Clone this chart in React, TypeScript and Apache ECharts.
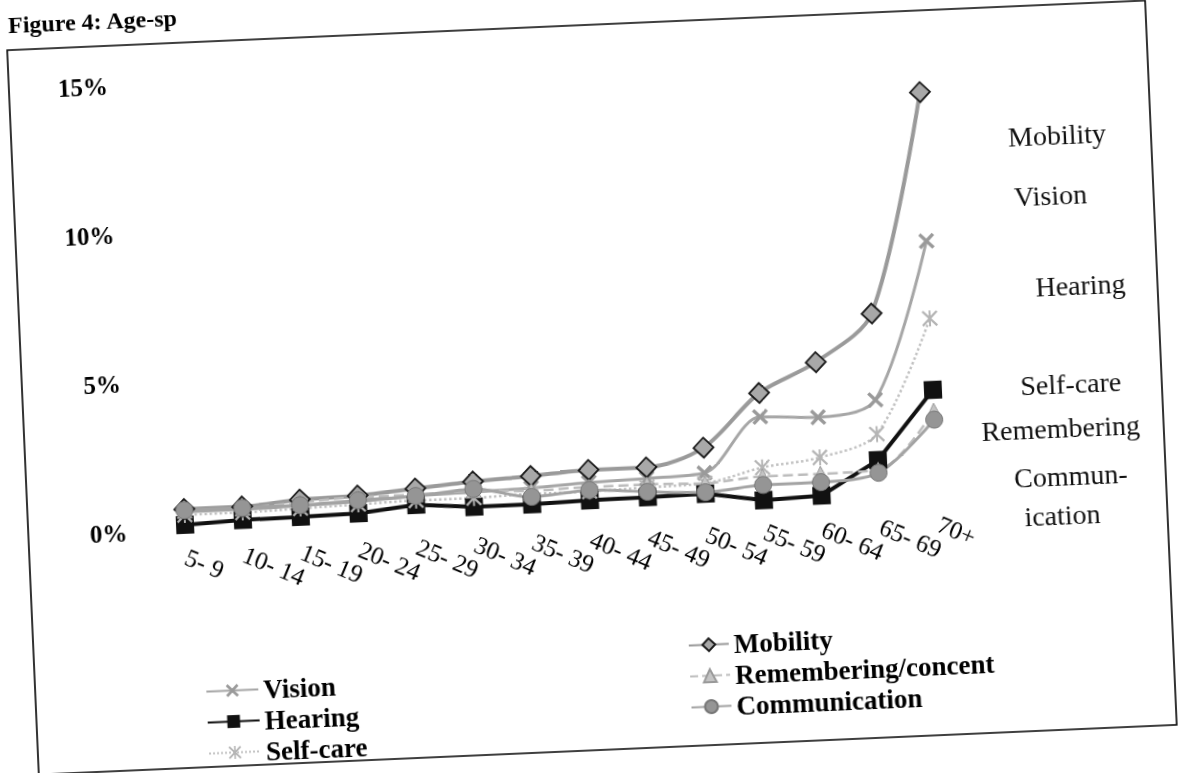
import React, { useEffect, useRef } from "react";
import * as echarts from "echarts";

// ---- data (percent of population in each age group) ----
const categories = [
  "5- 9", "10- 14", "15- 19", "20- 24", "25- 29", "30- 34", "35- 39",
  "40- 44", "45- 49", "50- 54", "55- 59", "60- 64", "65- 69", "70+",
];
const vision = [0.6, 0.6, 0.65, 0.7, 0.8, 0.85, 0.9, 1.0, 1.05, 1.15, 2.95, 2.85, 3.35, 8.6];
const hearing = [0.17, 0.25, 0.27, 0.3, 0.5, 0.35, 0.35, 0.4, 0.42, 0.45, 0.15, 0.22, 1.33, 3.6];
const selfCare = [0.5, 0.5, 0.55, 0.6, 0.65, 0.65, 0.7, 0.7, 0.75, 0.8, 1.25, 1.5, 2.2, 6.0];
const mobility = [0.7, 0.7, 0.85, 0.9, 1.05, 1.2, 1.3, 1.42, 1.42, 2.0, 3.75, 4.7, 6.25, 13.6];
const remembering = [0.65, 0.65, 0.75, 0.85, 0.85, 0.9, 0.8, 0.85, 0.85, 0.8, 0.95, 0.95, 1.0, 2.9];
const communication = [0.66, 0.65, 0.66, 0.74, 0.8, 0.95, 0.6, 0.74, 0.6, 0.5, 0.66, 0.67, 0.9, 2.6];

const yMin = 0;
const yMax = 15;
const yStep = 5;

const legendLeft = ["Vision", "Hearing", "Self-care"];
const legendRight = ["Mobility", "Remembering/concent", "Communication"];
const sideLabels = ["Mobility", "Vision", "Hearing", "Self-care", "Remembering", "Commun-", "ication"];
const titleText = "Figure 4: Age-sp";

const SERIF = "'Liberation Serif', 'Times New Roman', serif";

const X_SYMBOL =
  "path://M0,1.5 L1.5,0 L5,3.5 L8.5,0 L10,1.5 L6.5,5 L10,8.5 L8.5,10 L5,6.5 L1.5,10 L0,8.5 L3.5,5 Z";
const STAR_SYMBOL =
  "path://M0,1 L1,0 L5,4 L9,0 L10,1 L6,5 L10,9 L9,10 L5,6 L1,10 L0,9 L4,5 Z M4.4,0 L5.6,0 L5.6,10 L4.4,10 Z";

const sidePos: [number, number][] = [
  [1068, 195],
  [1059, 255],
  [1085, 346],
  [1071, 444],
  [1059, 488],
  [1067, 536],
  [1057, 575],
];

export default function App() {
  const ref = useRef<HTMLDivElement>(null);

  useEffect(() => {
    if (!ref.current) return;
    const chart = echarts.init(ref.current, null, { renderer: "svg" });

    const legendCommon = {
      orient: "vertical",
      itemHeight: 16,
      itemGap: 2,
      textStyle: {
        fontFamily: SERIF,
        fontWeight: "bold",
        fontSize: 27,
        color: "#000",
        lineHeight: 29,
      },
    };

    const option: any = {
      animation: false,
      backgroundColor: "#fff",
      grid: { left: 151, right: 225, top: 105, bottom: 301, containLabel: false },
      xAxis: {
        type: "category",
        data: categories,
        boundaryGap: true,
        axisLine: { show: false },
        axisTick: { show: false },
        splitLine: { show: false },
        axisLabel: {
          interval: 0,
          rotate: -25,
          margin: 26,
          fontFamily: SERIF,
          fontSize: 25,
          color: "#000",
        },
      },
      yAxis: {
        type: "value",
        min: yMin,
        max: yMax,
        interval: yStep,
        axisLine: { show: false },
        axisTick: { show: false },
        splitLine: { show: false },
        axisLabel: {
          formatter: "{value}%",
          margin: 29,
          fontFamily: SERIF,
          fontWeight: "bold",
          fontSize: 25,
          color: "#000",
        },
      },
      legend: [
        { ...legendCommon, data: legendLeft, left: 188, top: 695, itemWidth: 52 },
        { ...legendCommon, data: legendRight, left: 672, top: 670, itemWidth: 40 },
      ],
      series: [
        {
          name: "Vision",
          type: "line",
          data: vision,
          smooth: 0.3,
          symbol: X_SYMBOL,
          symbolSize: 16,
          lineStyle: { color: "#a6a6a6", width: 3 },
          itemStyle: { color: "#9a9a9a" },
        },
        {
          name: "Hearing",
          type: "line",
          data: hearing,
          symbol: "rect",
          symbolSize: 18,
          lineStyle: { color: "#111", width: 4 },
          itemStyle: { color: "#111" },
        },
        {
          name: "Self-care",
          type: "line",
          data: selfCare,
          smooth: 0.3,
          symbol: STAR_SYMBOL,
          symbolSize: 16,
          lineStyle: { color: "#c2c2c2", width: 2.5, type: "dotted" },
          itemStyle: { color: "#b5b5b5" },
        },
        {
          name: "Mobility",
          type: "line",
          data: mobility,
          smooth: 0.3,
          symbol: "diamond",
          symbolSize: 20,
          lineStyle: { color: "#9a9a9a", width: 4 },
          itemStyle: { color: "#a8a8a8", borderColor: "#1a1a1a", borderWidth: 1.8 },
        },
        {
          name: "Remembering/concent",
          type: "line",
          data: remembering,
          smooth: 0.3,
          symbol: "triangle",
          symbolSize: 15,
          lineStyle: { color: "#bdbdbd", width: 2.5, type: "dashed" },
          itemStyle: { color: "#c4c4c4", borderColor: "#999", borderWidth: 1 },
        },
        {
          name: "Communication",
          type: "line",
          data: communication,
          smooth: 0.3,
          symbol: "circle",
          symbolSize: 17,
          lineStyle: { color: "#a3a3a3", width: 3 },
          itemStyle: { color: "#959595", borderColor: "#777", borderWidth: 1 },
        },
      ],
      graphic: [
        {
          type: "rect",
          shape: { x: 23, y: 65, width: 1139, height: 725 },
          style: { fill: "none", stroke: "#000", lineWidth: 1.6 },
          silent: true,
        },
        {
          type: "text",
          x: 25,
          y: 52,
          style: {
            text: titleText,
            fontFamily: SERIF,
            fontWeight: "bold",
            fontSize: 24,
            fill: "#000",
            textVerticalAlign: "bottom",
          },
          silent: true,
        },
        ...sideLabels.map((t, i) => ({
          type: "text",
          x: sidePos[i][0],
          y: sidePos[i][1],
          style: {
            text: t,
            fontFamily: SERIF,
            fontSize: 28,
            fill: "#111",
            textAlign: "center",
            textVerticalAlign: "middle",
          },
          silent: true,
        })),
      ],
    };

    chart.setOption(option);
    return () => chart.dispose();
  }, []);

  return (
    <div
      ref={ref}
      style={{
        position: "fixed",
        left: 0,
        top: -40,
        width: 1187,
        height: 853,
        transform: "rotate(-2.5deg)",
        transformOrigin: "593px 440px",
      }}
    />
  );
}
